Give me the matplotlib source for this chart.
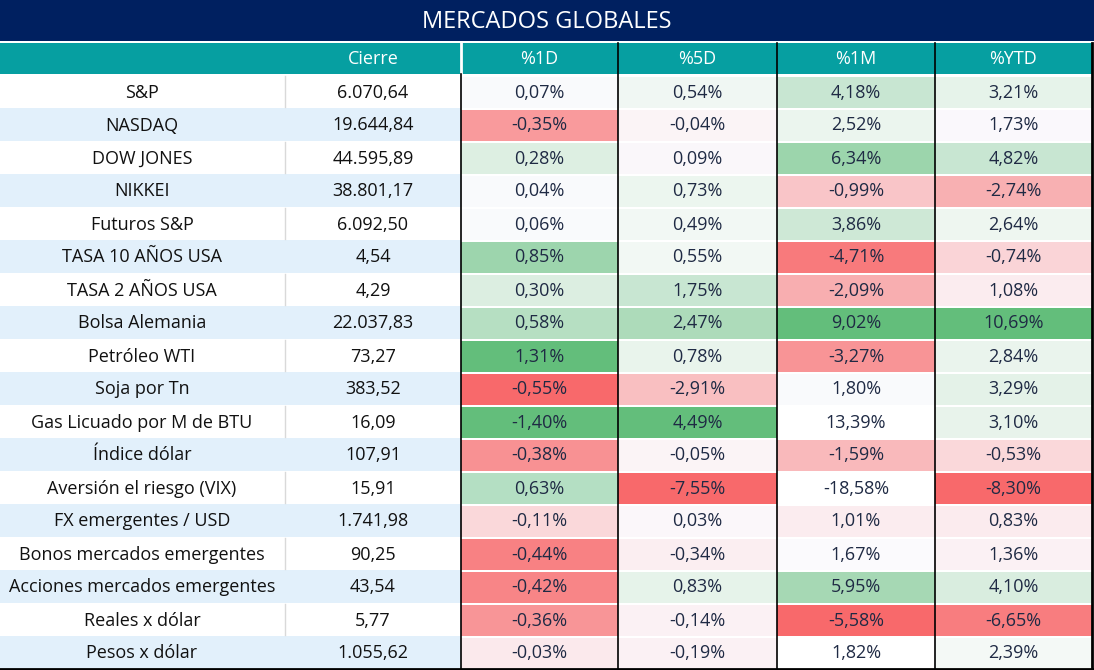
import matplotlib
matplotlib.use("Agg")
from matplotlib import pyplot as plt
from matplotlib.patches import Rectangle

#############################################
# Datos

titulo = "MERCADOS GLOBALES"
encabezados = ["Cierre", "%1D", "%5D", "%1M", "%YTD"]

activos = ["S&P", "NASDAQ", "DOW JONES", "NIKKEI", "Futuros S&P",
           "TASA 10 AÑOS USA", "TASA 2 AÑOS USA", "Bolsa Alemania",
           "Petróleo WTI", "Soja por Tn", "Gas Licuado por M de BTU",
           "Índice dólar", "Aversión el riesgo (VIX)", "FX emergentes / USD",
           "Bonos mercados emergentes", "Acciones mercados emergentes",
           "Reales x dólar", "Pesos x dólar"]

cierre = ["6.070,64", "19.644,84", "44.595,89", "38.801,17", "6.092,50",
          "4,54", "4,29", "22.037,83", "73,27", "383,52", "16,09", "107,91",
          "15,91", "1.741,98", "90,25", "43,54", "5,77", "1.055,62"]

var_1d = [0.07, -0.35, 0.28, 0.04, 0.06, 0.85, 0.30, 0.58, 1.31, -0.55,
          -1.40, -0.38, 0.63, -0.11, -0.44, -0.42, -0.36, -0.03]
var_5d = [0.54, -0.04, 0.09, 0.73, 0.49, 0.55, 1.75, 2.47, 0.78, -2.91,
          4.49, -0.05, -7.55, 0.03, -0.34, 0.83, -0.14, -0.19]
var_1m = [4.18, 2.52, 6.34, -0.99, 3.86, -4.71, -2.09, 9.02, -3.27, 1.80,
          13.39, -1.59, -18.58, 1.01, 1.67, 5.95, -5.58, 1.82]
var_ytd = [3.21, 1.73, 4.82, -2.74, 2.64, -0.74, 1.08, 10.69, 2.84, 3.29,
           3.10, -0.53, -8.30, 0.83, 1.36, 4.10, -6.65, 2.39]

# colores del formato condicional
col_1d = ["#F9FAFC", "#F99A9C", "#DDEFE2", "#F9FAFC", "#F9FAFC", "#9DD5AD",
          "#DCEEE1", "#B6DFC2", "#63BE7B", "#F8696B", "#63BE7B", "#F89193",
          "#B4DFC3", "#FAD8DA", "#F88183", "#F88587", "#F89597", "#FBE9EC"]
col_5d = ["#F0F7F3", "#FBF4F6", "#FAF7FA", "#ECF6EF", "#F2F8F4", "#F2F8F4",
          "#C8E6D2", "#ADDBBA", "#E9F4EC", "#F9BFC1", "#63BE7B", "#FBF4F6",
          "#F8696B", "#FBF7FA", "#FBEEF1", "#E6F3EA", "#FBF1F4", "#FBF1F4"]
col_1m = ["#C8E6D2", "#EBF5EE", "#9CD5AC", "#F9C5C8", "#CEE8D6", "#F87A7C",
          "#F8AEB0", "#63BE7B", "#F89496", "#F9FAFC", "#FFFFFF", "#F9B9BB",
          "#FFFFFF", "#FBECEF", "#FBFAFD", "#A6D8B4", "#F8696B", "#FFFFFF"]
col_ytd = ["#E6F3EA", "#FAF8FC", "#C8E6D2", "#F8B0B2", "#EEF6F0", "#FAD4D7",
           "#FBECEF", "#63BE7B", "#EAF4ED", "#E4F2E8", "#E8F3EB", "#FAD8DA",
           "#F8696B", "#FBEBEE", "#FBF1F4", "#D9EDDF", "#F87D7F", "#F4F9F6"]

#############################################
# Layout (pixeles)

W, H = 1094, 670
bordes = [0, 285, 461, 618, 777, 935, 1092]
y_tit, h_tit = 0, 41
y_enc, h_enc = 43, 31
y0, hf = 75, 33

navy = "#002060"
teal = "#069FA1"
celeste = "#E2F0FB"
txt_pct = "#1F2A44"
fuente = ["Open Sans", "DejaVu Sans"]
fs = 13

fig = plt.figure(figsize=(W / 100, H / 100), dpi=100)
ax = fig.add_axes([0, 0, 1, 1])
ax.set_xlim(0, W)
ax.set_ylim(H, 0)
ax.axis("off")

# titulo
ax.add_patch(Rectangle((0, y_tit), W, h_tit, color=navy, lw=0))
ax.text(W / 2, y_tit + h_tit / 2 + 1, titulo, color="white", fontsize=17,
        ha="center", va="center", family=fuente)

# encabezado
ax.add_patch(Rectangle((0, y_enc), bordes[-1], h_enc, color=teal, lw=0))
for j, enc in enumerate(encabezados):
    xc = (bordes[j + 1] + bordes[j + 2]) / 2
    ax.text(xc, y_enc + h_enc / 2 + 1, enc, color="white", fontsize=fs,
            ha="center", va="center", family=fuente)
ax.plot([461, 461], [y_enc, y_enc + h_enc], color="white", lw=2)

# filas
pcts = [var_1d, var_5d, var_1m, var_ytd]
cols = [col_1d, col_5d, col_1m, col_ytd]
for i, nombre in enumerate(activos):
    y = y0 + i * hf
    fondo = "white" if i % 2 == 0 else celeste
    ax.add_patch(Rectangle((0, y), bordes[2], hf, color=fondo, lw=0))
    if i % 2 == 0:
        ax.plot([285, 285], [y + 1, y + hf - 1], color="#D9D9D9", lw=1)
    ax.text(142, y + hf / 2 + 1, nombre, color="#111111", fontsize=fs,
            ha="center", va="center", family=fuente)
    ax.text(373, y + hf / 2 + 1, cierre[i], color="#111111", fontsize=fs,
            ha="center", va="center", family=fuente)
    for j in range(4):
        x = bordes[j + 2]
        ax.add_patch(Rectangle((x, y + 1.5), bordes[j + 3] - x, hf - 2,
                               color=cols[j][i], lw=0))
        val = f"{pcts[j][i]:.2f}".replace(".", ",") + "%"
        ax.text((x + bordes[j + 3]) / 2, y + hf / 2 + 1, val, color=txt_pct,
                fontsize=fs, ha="center", va="center", family=fuente)

# lineas negras
y_fin = y0 + len(activos) * hf
ax.plot([461, 461], [y_enc + h_enc, y_fin], color="black", lw=1.2)
for xb in bordes[3:6]:
    ax.plot([xb, xb], [y_enc, y_fin], color="black", lw=1.2)
ax.plot([1092, 1092], [y_enc, H], color="black", lw=2)
ax.plot([0, 1093], [y_fin, y_fin], color="black", lw=2)

fig.savefig("out.png", dpi=100)
